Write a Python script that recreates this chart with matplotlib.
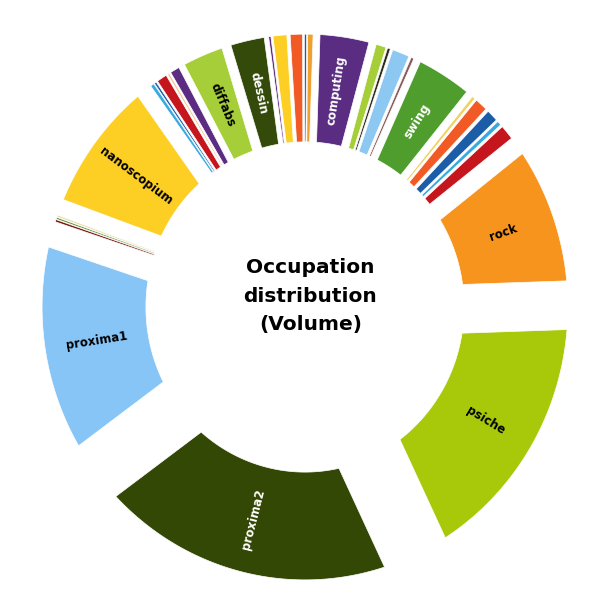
import numpy as np
import matplotlib
matplotlib.use("Agg")
import matplotlib.pyplot as plt

# slices in clockwise order starting at 12 o'clock, share of volume (%)
names = ['', '', 'computing', '', '', '', '', 'swing', '', '', '', '', '',
         'rock', 'psiche', 'proxima2', 'proxima1', '', '', '', 'nanoscopium',
         '', '', '', '', '', 'diffabs', 'dessin', '', '', '']
values = [0.17, 0.42, 3.75, 0.78, 0.22, 1.31, 0.22, 4.14, 0.25, 0.97, 0.89, 0.33, 1.1,
          9.97, 18.41, 22.11, 15.03, 0.17, 0.14, 0.14, 9.5,
          0.28, 0.17, 0.78, 0.17, 0.72, 3.08, 2.58, 0.17, 1.06, 0.94]
colors = ['#1C5DA8', '#F0A030', '#5A2D82', '#A6CE39', '#2B2B1B', '#8CC8F2', '#8B5A5A',
          '#4F9D2D', '#F2D060', '#F15A24', '#1C5DA8', '#38A9E1', '#C4161C',
          '#F7941D', '#A8C90A', '#344805', '#87C5F7', '#7A1A1A', '#6A9A3A', '#E8D8B0',
          '#FDCF24', '#38A9E1', '#1C5DA8', '#C4161C', '#F5C9A0', '#5B2C82',
          '#A6CE39', '#344A0A', '#5B2C82', '#FDCF24', '#F15A24']
label_colors = {'computing': 'white', 'swing': 'white', 'dessin': 'white',
                'proxima2': 'white'}

start = 90.2
r_out, r_in = 1.0, 0.605
pad_frac = 0.1

fig = plt.figure(figsize=(6.0, 6.14), dpi=100)
ax = fig.add_axes([0, 0, 1, 1])
ax.set_xlim(-1.160, 1.122)
ax.set_ylim(-1.125, 1.125)
ax.axis('off')

spans = np.array(values) / sum(values) * 2 * np.pi
ends = np.radians(start) - np.cumsum(spans)
starts = ends + spans

for name, a_hi, a_lo, span, col in zip(names, starts, ends, spans, colors):
    # each slice is shrunk by a gap that grows with its size
    pad = pad_frac * span
    po = np.arcsin(min(pad / r_out, 1))
    pi_ = np.arcsin(min(pad / r_in, 1))
    mid = (a_hi + a_lo) / 2
    o1, o2 = a_lo + po, a_hi - po
    i1, i2 = a_lo + pi_, a_hi - pi_
    if i1 > i2:
        i1 = i2 = mid
    t_out = np.linspace(o1, o2, 60)
    t_in = np.linspace(i2, i1, 60)
    xs = np.concatenate([r_out * np.cos(t_out), r_in * np.cos(t_in)])
    ys = np.concatenate([r_out * np.sin(t_out), r_in * np.sin(t_in)])
    ax.fill(xs, ys, color=col, ec='white', lw=0.5)

    if name:
        rot = np.degrees(mid)
        while rot > 90:
            rot -= 180
        while rot < -90:
            rot += 180
        rr = (r_out + r_in) / 2
        ax.text(rr * np.cos(mid), rr * np.sin(mid), name, rotation=rot,
                rotation_mode='anchor', ha='center', va='center',
                fontsize=8.5, fontweight='bold',
                color=label_colors.get(name, 'black'))

ax.text(0.02, 0.04, 'Occupation\ndistribution\n(Volume)', ha='center', va='center',
        fontsize=14.5, fontweight='bold', linespacing=1.65)

fig.savefig('out.png', dpi=100)
